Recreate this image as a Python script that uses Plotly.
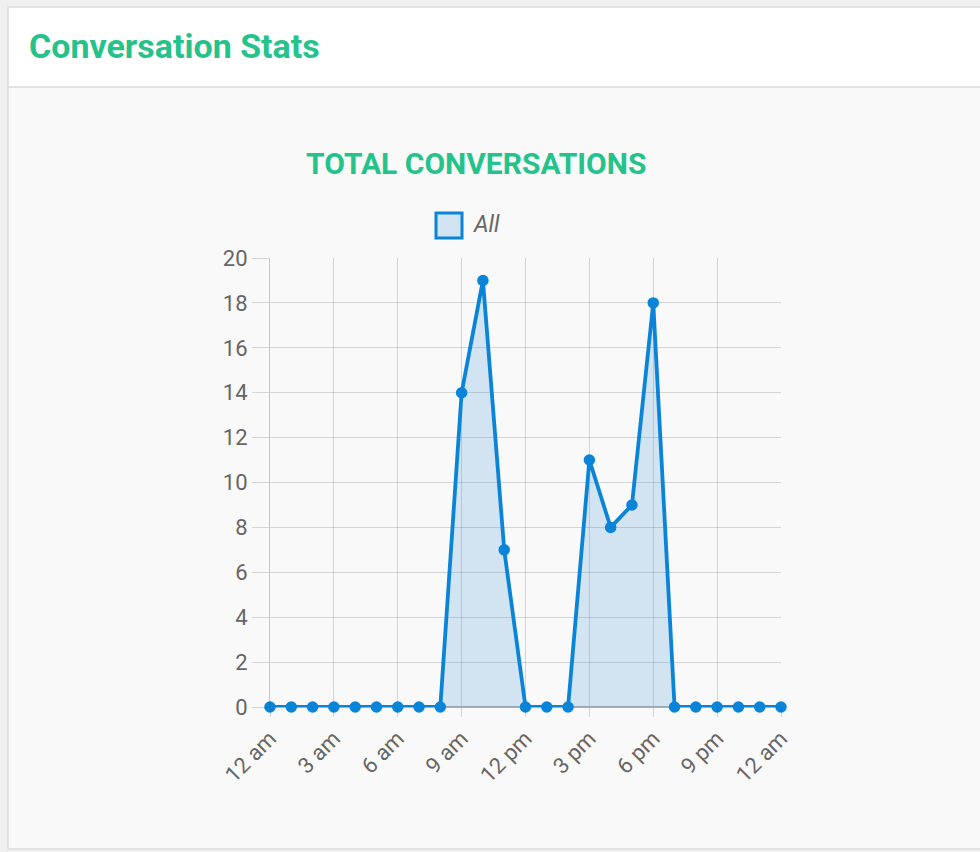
import plotly.graph_objects as go

# ---- data ----
hours = list(range(25))
conversations = [0, 0, 0, 0, 0, 0, 0, 0, 0, 14, 19, 7, 0, 0, 0, 11, 8, 9, 18, 0, 0, 0, 0, 0, 0]
tick_hours = [0, 3, 6, 9, 12, 15, 18, 21, 24]
tick_labels = ["12 am", "3 am", "6 am", "9 am", "12 pm", "3 pm", "6 pm", "9 pm", "12 am"]
series_name = "All"

W, H = 980, 852
def px(x):
    return x / W
def py(y):
    return 1 - y / H

BLUE = "#0a84d8"
GREEN = "#26c28b"
FONT = "Roboto"
GRID = "rgba(0,0,0,0.14)"

fig = go.Figure()
fig.add_trace(go.Scatter(
    x=hours, y=conversations, name=series_name,
    mode="lines+markers",
    line=dict(color=BLUE, width=3.8),
    marker=dict(color=BLUE, size=11.5),
    fill="tozeroy", fillcolor="rgba(54,144,209,0.2)",
    cliponaxis=False, showlegend=False,
))

shapes = [
    # card header
    dict(type="rect", xref="paper", yref="paper", x0=px(8), x1=px(990), y0=py(87), y1=py(7),
         fillcolor="#ffffff", line=dict(color="#e2e2e2", width=2), layer="below"),
    # card body
    dict(type="rect", xref="paper", yref="paper", x0=px(8), x1=px(990), y0=py(849), y1=py(87),
         fillcolor="#f9f9f9", line=dict(color="#e2e2e2", width=2), layer="below"),
    # legend box
    dict(type="rect", xref="paper", yref="paper", x0=px(436), x1=px(462), y0=py(238), y1=py(213),
         fillcolor="#d2e4f1", line=dict(color=BLUE, width=3)),
]

annotations = [
    dict(text="Conversation Stats", xref="paper", yref="paper", x=px(27), y=py(46),
         xanchor="left", yanchor="middle", showarrow=False,
         font=dict(family=FONT, size=34, color=GREEN, weight=700)),
    dict(text="TOTAL CONVERSATIONS", xref="paper", yref="paper", x=px(476), y=py(163),
         xanchor="center", yanchor="middle", showarrow=False,
         font=dict(family=FONT, size=30, color=GREEN, weight=700)),
    dict(text=series_name, xref="paper", yref="paper", x=px(471), y=py(224),
         xanchor="left", yanchor="middle", showarrow=False,
         font=dict(family=FONT, size=23, color="#666666", style="italic")),
]

fig.update_layout(
    width=W, height=H,
    margin=dict(l=0, r=0, t=0, b=0, pad=0, autoexpand=False),
    paper_bgcolor="#f0f0f0", plot_bgcolor="rgba(0,0,0,0)",
    shapes=shapes, annotations=annotations,
    showlegend=False,
    xaxis=dict(
        domain=[px(270), px(781)], range=[0, 24],
        tickvals=tick_hours, ticktext=tick_labels, tickangle=-45,
        showgrid=True, gridcolor=GRID, gridwidth=1,
        ticks="outside", ticklen=9, tickcolor=GRID,
        showline=False, zeroline=False, automargin=False,
        tickfont=dict(family=FONT, size=22, color="#666666"),
        fixedrange=True,
    ),
    yaxis=dict(
        domain=[py(707), py(258)], range=[0, 20], dtick=2,
        showgrid=True, gridcolor=GRID, gridwidth=1,
        ticks="outside", ticklen=17, tickcolor=GRID,
        zeroline=True, zerolinecolor="rgba(0,0,0,0.3)", zerolinewidth=1.5,
        showline=True, linecolor="rgba(0,0,0,0.2)", linewidth=1, automargin=False,
        tickfont=dict(family=FONT, size=22, color="#666666"),
        fixedrange=True,
    ),
)

fig.write_html(
    "out.html",
    config={"displayModeBar": False},
    post_script="document.body.style.margin='0';document.body.style.background='#f0f0f0';",
)
